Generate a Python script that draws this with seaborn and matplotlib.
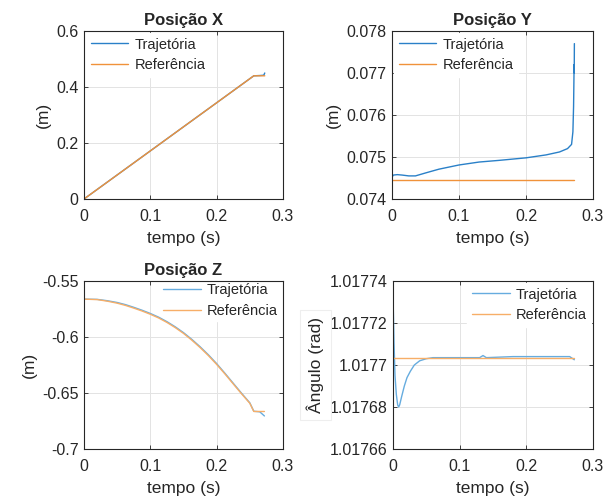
import numpy as np
import pandas as pd
import matplotlib
matplotlib.use("Agg")
import matplotlib.pyplot as plt
import seaborn as sns
from matplotlib.ticker import FuncFormatter, FixedLocator

# ---- data -------------------------------------------------------------
# Posição X
t_x = [0.0, 0.05, 0.10, 0.15, 0.20, 0.256, 0.265, 0.271, 0.2725]
traj_x = [0.0, 0.0859, 0.1718, 0.2578, 0.3437, 0.440, 0.441, 0.442, 0.450]
ref_x = [0.0, 0.0859, 0.1718, 0.2578, 0.3437, 0.440, 0.440, 0.440, 0.440]

# Posição Y
t_y_traj = [0.0, 0.002, 0.008, 0.015, 0.025, 0.035, 0.05, 0.07, 0.10, 0.13,
            0.16, 0.20, 0.23, 0.25, 0.262, 0.268, 0.2700, 0.2710, 0.2715,
            0.2718, 0.2720, 0.2722]
traj_y = [0.07452, 0.07457, 0.07458, 0.07457, 0.07455, 0.07455, 0.07462,
          0.07471, 0.07481, 0.07488, 0.07492, 0.07498, 0.07505, 0.07512,
          0.07520, 0.07530, 0.07560, 0.07620, 0.07680, 0.07720, 0.07700,
          0.07770]
t_y_ref = [0.0, 0.2715]
ref_y = [0.074448, 0.074448]

# Posição Z
t_z = [0.0, 0.02, 0.035, 0.05, 0.0625, 0.075, 0.0875, 0.10, 0.1125, 0.125,
       0.1375, 0.15, 0.1625, 0.175, 0.1875, 0.20, 0.2125, 0.225, 0.2375,
       0.25, 0.256, 0.265, 0.272]
ref_z = [-0.5662, -0.5666, -0.5680, -0.5698, -0.5718, -0.5742, -0.5768,
         -0.5797, -0.5830, -0.5870, -0.5916, -0.5968, -0.6028, -0.6094,
         -0.6166, -0.6245, -0.6330, -0.6419, -0.6507, -0.6592, -0.6665,
         -0.6665, -0.6665]
traj_z = [-0.5662, -0.5664, -0.5676, -0.5692, -0.5711, -0.5735, -0.5761,
          -0.5790, -0.5823, -0.5863, -0.5909, -0.5961, -0.6021, -0.6087,
          -0.6159, -0.6238, -0.6324, -0.6413, -0.6502, -0.6588, -0.6663,
          -0.6668, -0.6705]

# Ângulo
t_a_traj = [0.0, 0.0008, 0.0015, 0.003, 0.005, 0.007, 0.0085, 0.010, 0.013,
            0.017, 0.021, 0.026, 0.032, 0.040, 0.050, 0.060, 0.070, 0.13,
            0.135, 0.14, 0.18, 0.265, 0.272]
traj_a = [1.017733, 1.017722, 1.017711, 1.017695, 1.017686, 1.017681,
          1.017680, 1.017681, 1.017685, 1.017690, 1.017694, 1.017697,
          1.017700, 1.017702, 1.0177030, 1.0177035, 1.0177035, 1.0177035,
          1.0177045, 1.0177035, 1.0177040, 1.0177040, 1.0177025]
t_a_ref = [0.0, 0.272]
ref_a = [1.0177035, 1.0177035]

titles = ["Posição X", "Posição Y", "Posição Z", None]
ylabels = ["(m)", "(m)", "(m)", "Ângulo (rad)"]
xlabel = "tempo (s)"
series_names = ["Trajetória", "Referência"]

# ---- styling ----------------------------------------------------------
sns.set_theme(style="whitegrid")
plt.rcParams["font.family"] = ["Liberation Sans", "DejaVu Sans"]
plt.rcParams.update({
    "axes.edgecolor": "#262626",
    "axes.linewidth": 0.8,
    "grid.color": "#e3e3e3",
    "grid.linewidth": 0.7,
    "xtick.color": "#262626",
    "ytick.color": "#262626",
    "xtick.direction": "in",
    "ytick.direction": "in",
    "xtick.major.size": 3,
    "ytick.major.size": 3,
    "xtick.major.width": 0.6,
    "ytick.major.width": 0.6,
    "xtick.bottom": True,
    "ytick.left": True,
    "text.color": "#262626",
    "axes.labelcolor": "#262626",
})

fig = plt.figure(figsize=(6.05, 5.01), dpi=100)
W, H = 605, 501


def add_axes(l, r, t, b):
    return fig.add_axes([l / W, 1 - b / H, (r - l) / W, (b - t) / H])


axs = [add_axes(84, 283, 31, 199), add_axes(392, 593, 31, 199),
       add_axes(84, 283, 281, 449), add_axes(393, 593, 281, 449)]

dark = ("#2a80c8", "#f0923a")
light = ("#66acdf", "#f7ae68")

panels = [
    (t_x, traj_x, t_x, ref_x, (0, 0.6), [0, 0.2, 0.4, 0.6], dark, "upper left"),
    (t_y_traj, traj_y, t_y_ref, ref_y, (0.074, 0.078),
     [0.074, 0.075, 0.076, 0.077, 0.078], dark, "upper left"),
    (t_z, traj_z, t_z, ref_z, (-0.7, -0.55), [-0.7, -0.65, -0.6, -0.55],
     light, "upper right"),
    (t_a_traj, traj_a, t_a_ref, ref_a, (1.01766, 1.01774),
     [1.01766, 1.01768, 1.0177, 1.01772, 1.01774], light, "upper right"),
]

fmt = FuncFormatter(lambda v, p: "%g" % round(v, 6))

for i, (ax, (tt, yt, tr, yr, ylim, yticks, cols, loc)) in enumerate(zip(axs, panels)):
    df_t = pd.DataFrame({"t": tt, "v": yt})
    df_r = pd.DataFrame({"t": tr, "v": yr})
    # in the Z panel the curves run just under the legend, keep them on top
    z = 6 if i == 2 else 2
    sns.lineplot(data=df_t, x="t", y="v", ax=ax, color=cols[0], lw=1.0,
                 label=series_names[0], sort=False, estimator=None, zorder=z)
    sns.lineplot(data=df_r, x="t", y="v", ax=ax, color=cols[1], lw=1.0,
                 label=series_names[1], sort=False, estimator=None, zorder=z)
    ax.set_xlim(0, 0.3)
    ax.set_ylim(*ylim)
    ax.xaxis.set_major_locator(FixedLocator([0, 0.1, 0.2, 0.3]))
    ax.yaxis.set_major_locator(FixedLocator(yticks))
    ax.xaxis.set_major_formatter(fmt)
    ax.yaxis.set_major_formatter(fmt)
    ax.tick_params(axis="x", labelsize=11.5, pad=7, top=True)
    ax.tick_params(axis="y", labelsize=11.5, pad=4, right=True)
    ax.set_xlabel(xlabel, fontsize=12.5, labelpad=5)
    ax.set_ylabel(ylabels[i], fontsize=12.5, labelpad=4)
    if titles[i]:
        ax.set_title(titles[i], fontsize=12, fontweight="bold", pad=4)
    if i == 2:
        leg = ax.legend(loc="upper right", bbox_to_anchor=(0.99, 1.003),
                        frameon=True, fontsize=10.5, handlelength=2.6,
                        handletextpad=0.4, borderaxespad=0.0, borderpad=0.2,
                        labelspacing=0.45, fancybox=False)
    else:
        leg = ax.legend(loc=loc, frameon=True, fontsize=10.5, handlelength=2.6,
                        handletextpad=0.4, borderaxespad=0.15, borderpad=0.3,
                        labelspacing=0.45, fancybox=False)
    leg.get_frame().set_facecolor("white")
    leg.get_frame().set_edgecolor("white")
    leg.get_frame().set_alpha(1.0)
    for sp in ax.spines.values():
        sp.set_color("#262626")
        sp.set_linewidth(0.8)
        sp.set_zorder(7)

# faint box behind the angle label
axs[3].yaxis.label.set_bbox(dict(facecolor="white", edgecolor="#eeeeee",
                                 linewidth=0.8, pad=5))

fig.savefig("out.png", dpi=100, facecolor="white")
